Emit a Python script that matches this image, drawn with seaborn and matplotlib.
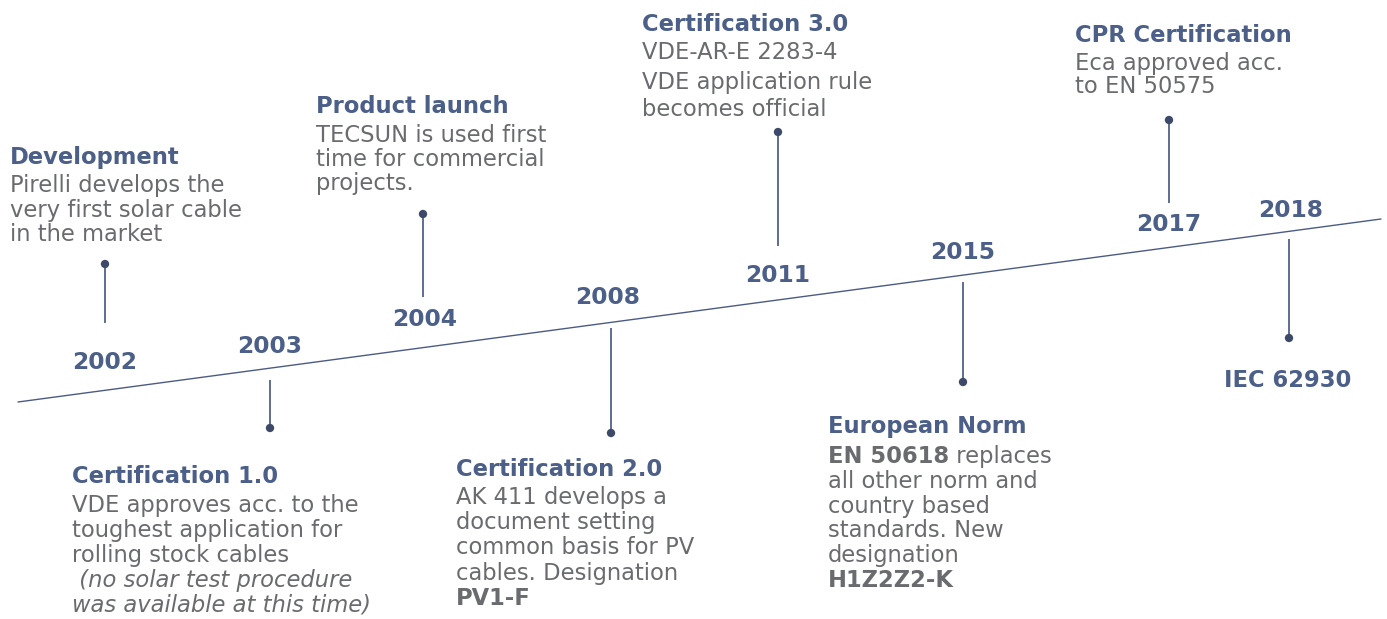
import re
import numpy as np
import pandas as pd
import matplotlib
matplotlib.use("Agg")
import matplotlib.pyplot as plt
import seaborn as sns

# Timeline content
years = ["2002", "2003", "2004", "2008", "2011", "2015", "2017", "2018"]
titles = ["Development", "Certification 1.0", "Product launch", "Certification 2.0",
          "Certification 3.0", "European Norm", "CPR Certification", ""]
bodies = [
    ["Pirelli develops the", "very first solar cable", "in the market"],
    ["VDE approves acc. to the", "toughest application for", "rolling stock cables",
     "_ (no solar test procedure_", "_was available at this time)_"],
    ["TECSUN is used first", "time for commercial", "projects."],
    ["AK 411 develops a", "document setting", "common basis for PV",
     "cables. Designation", "**PV1-F**"],
    ["VDE-AR-E 2283-4", "VDE application rule", "becomes official"],
    ["**EN 50618** replaces", "all other norm and", "country based",
     "standards. New", "designation", "**H1Z2Z2-K**"],
    ["Eca approved acc.", "to EN 50575"],
    ["**IEC 62930**"],
]

# Layout (pixel coordinates, y downwards)
event_x = [105, 270, 423, 611, 778, 963, 1169, 1289]
year_x = [105, 270, 425, 608, 778, 963, 1169, 1291]
year_y = [369, 353, 326, 304, 282, 259, 231, 217]
stem_top = [264, 380, 214, 328, 132, 282, 120, 239]
stem_bot = [323, 428, 297, 433, 246, 382, 203, 338]
dot_y = [264, 428, 214, 433, 132, 382, 120, 338]
text_x = [10, 72, 316, 456, 642, 828, 1075, 1288]
title_y = [164, 483, 113, 476, 31, 433, 42, 359]
first_gap = [28, 29, 29, 28, 28, 30, 28, 28]
line_gap = [24.5, 25, 24, 25.2, 27, 24.8, 23, 25]
line_x = [18, 1381]
line_y = [402, 219]

TITLE_C = "#4b5f88"
BODY_C = "#6a6b6e"
STEM_C = "#5d6c90"
DOT_C = "#3d4969"
LINE_C = "#4c5b84"
FS = 16.3

sns.set_theme(style="white")
plt.rcParams["font.family"] = ["DejaVu Sans"]

fig = plt.figure(figsize=(13.87, 6.19), dpi=100)
ax = fig.add_axes([0, 0, 1, 1])
ax.set_xlim(0, 1387)
ax.set_ylim(619, 0)
ax.axis("off")

# baseline
base = pd.DataFrame({"x": line_x, "y": line_y})
sns.lineplot(data=base, x="x", y="y", color=LINE_C, lw=1.0, ax=ax, estimator=None)

# stems and dots
ax.vlines(event_x, stem_top, stem_bot, color=STEM_C, lw=1.4)
dots = pd.DataFrame({"x": event_x, "y": dot_y})
sns.scatterplot(data=dots, x="x", y="y", color=DOT_C, s=36, edgecolor="none", ax=ax, zorder=3)

fig.canvas.draw()
renderer = fig.canvas.get_renderer()


def draw_line(x, y, line, ha="left"):
    style = "normal"
    if line.startswith("_") and line.endswith("_"):
        style = "italic"
        line = line[1:-1]
    parts = [p for p in re.split(r"(\*\*.*?\*\*)", line) if p]
    if ha == "center":
        t = ax.text(x, y, line.replace("**", ""), fontsize=FS, color=TITLE_C,
                    fontweight="bold", ha="center", va="baseline")
        return
    cx = x
    for p in parts:
        bold = p.startswith("**")
        txt = p.strip("*") if bold else p
        t = ax.text(cx, y, txt, fontsize=FS, color=BODY_C, style=style,
                    fontweight="bold" if bold else "normal",
                    ha="left", va="baseline")
        w = t.get_window_extent(renderer).width
        cx += w


for i, yr in enumerate(years):
    ax.text(year_x[i], year_y[i], yr, fontsize=16.8, fontweight="bold",
            color=TITLE_C, ha="center", va="baseline")
    if titles[i]:
        ax.text(text_x[i], title_y[i], titles[i], fontsize=FS, fontweight="bold",
                color=TITLE_C, ha="left", va="baseline")
        for j, ln in enumerate(bodies[i]):
            yy = title_y[i] + first_gap[i] + line_gap[i] * j
            if i == 4 and j > 0:
                yy += 3
            draw_line(text_x[i], yy, ln)
    else:
        draw_line(text_x[i], 387, bodies[i][0], ha="center")

fig.savefig("out.png", dpi=100)
